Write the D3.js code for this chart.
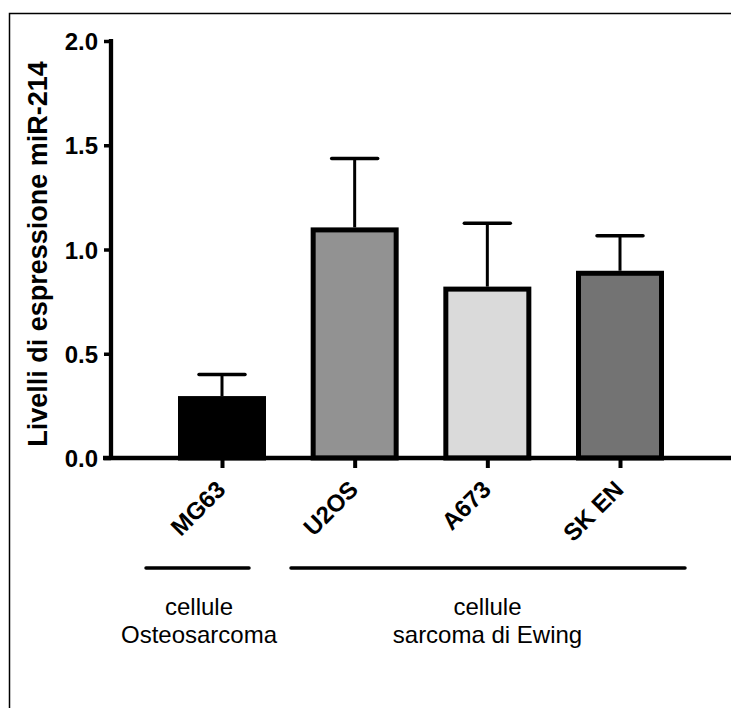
<!DOCTYPE html>
<html><head><meta charset="utf-8">
<script src="https://cdn.jsdelivr.net/npm/d3@7"></script>
<style>html,body{margin:0;padding:0;background:#fff;}svg{display:block;}</style>
</head><body>
<svg id="chart" width="731" height="708"></svg>
<script>
const categories = ["MG63", "U2OS", "A673", "SK EN"];
const means = [0.285, 1.094, 0.810, 0.886];
const errors = [0.116, 0.343, 0.316, 0.180];
const colors = ["#000000", "#929292", "#dadada", "#737373"];
const yTicks = [0, 0.5, 1.0, 1.5, 2.0];
const yTitle = "Livelli di espressione miR-214";
const groups = [
  {lines: ["cellule", "Osteosarcoma"], from: "MG63", to: "MG63"},
  {lines: ["cellule", "sarcoma di Ewing"], from: "U2OS", to: "SK EN"}
];

const svg = d3.select("#chart");
const FONT = "'Liberation Sans', Arial, Helvetica, sans-serif";

// frame
svg.append("rect").attr("x", 9.5).attr("y", 13.5).attr("width", 900).attr("height", 900)
  .attr("fill", "none").attr("stroke", "#000").attr("stroke-width", 1.5);

const y = d3.scaleLinear().domain([0, 2]).range([458, 41]);
const x = d3.scalePoint().domain(categories).range([222, 620]);
const halfBar = 41.5;

// bars
svg.selectAll("rect.bar").data(categories).enter().append("rect")
  .attr("class", "bar")
  .attr("x", d => x(d) - halfBar)
  .attr("width", halfBar * 2)
  .attr("y", (d, i) => y(means[i]))
  .attr("height", (d, i) => y(0) - y(means[i]))
  .attr("fill", (d, i) => colors[i])
  .attr("stroke", "#000").attr("stroke-width", 5);

// error bars
const eb = svg.selectAll("g.err").data(categories).enter().append("g").attr("class", "err");
eb.append("line")
  .attr("x1", d => x(d)).attr("x2", d => x(d))
  .attr("y1", (d, i) => y(means[i]) - 2.5)
  .attr("y2", (d, i) => y(means[i] + errors[i]))
  .attr("stroke", "#000").attr("stroke-width", 3);
eb.append("line")
  .attr("x1", d => x(d) - 23).attr("x2", d => x(d) + 23)
  .attr("y1", (d, i) => y(means[i] + errors[i]))
  .attr("y2", (d, i) => y(means[i] + errors[i]))
  .attr("stroke", "#000").attr("stroke-width", 3.5).attr("stroke-linecap", "round");

// y axis
const yAxis = d3.axisLeft(y).tickValues(yTicks).tickFormat(d3.format(".1f")).tickSize(7).tickPadding(6);
const gy = svg.append("g").attr("transform", "translate(111,0)").call(yAxis);
gy.select(".domain").remove();
gy.selectAll(".tick line").attr("stroke", "#000").attr("stroke-width", 3.5);
gy.selectAll(".tick text").attr("font-family", FONT).attr("font-size", 24).attr("font-weight", "bold")
  .attr("fill", "#000").attr("dy", "0.36em");
svg.append("line").attr("x1", 111).attr("x2", 111).attr("y1", y(2) - 2).attr("y2", y(0) + 2)
  .attr("stroke", "#000").attr("stroke-width", 4.3);

// x axis
const xAxis = d3.axisBottom(x).tickSize(10).tickFormat("");
const gx = svg.append("g").attr("transform", "translate(0,458)").call(xAxis);
gx.select(".domain").remove();
gx.selectAll(".tick line").attr("stroke", "#000").attr("stroke-width", 4);
svg.append("line").attr("x1", 103).attr("x2", 731).attr("y1", 458).attr("y2", 458)
  .attr("stroke", "#000").attr("stroke-width", 4.5);

// x labels rotated
svg.selectAll("text.xl").data(categories).enter().append("text")
  .attr("class", "xl")
  .attr("transform", d => `translate(${x(d) + 5},491) rotate(-45)`)
  .attr("text-anchor", "end")
  .attr("font-family", FONT).attr("font-size", 24).attr("font-weight", "bold")
  .attr("fill", "#000")
  .text(d => d);

// y title
svg.append("text")
  .attr("transform", "translate(47,254) rotate(-90)")
  .attr("text-anchor", "middle")
  .attr("font-family", FONT).attr("font-size", 27).attr("font-weight", "bold")
  .attr("fill", "#000")
  .text(yTitle);

// group lines and labels
const groupLineX = [[146, 249], [291, 685]];
const groupCenter = [199, 487.5];
groups.forEach((g, gi) => {
  svg.append("line")
    .attr("x1", groupLineX[gi][0]).attr("x2", groupLineX[gi][1])
    .attr("y1", 568).attr("y2", 568)
    .attr("stroke", "#000").attr("stroke-width", 3.5).attr("stroke-linecap", "round");
  g.lines.forEach((t, li) => {
    svg.append("text")
      .attr("x", groupCenter[gi]).attr("y", 615 + li * 28)
      .attr("text-anchor", "middle")
      .attr("font-family", FONT).attr("font-size", 24)
      .attr("fill", "#000")
      .text(t);
  });
});
</script>
</body></html>
